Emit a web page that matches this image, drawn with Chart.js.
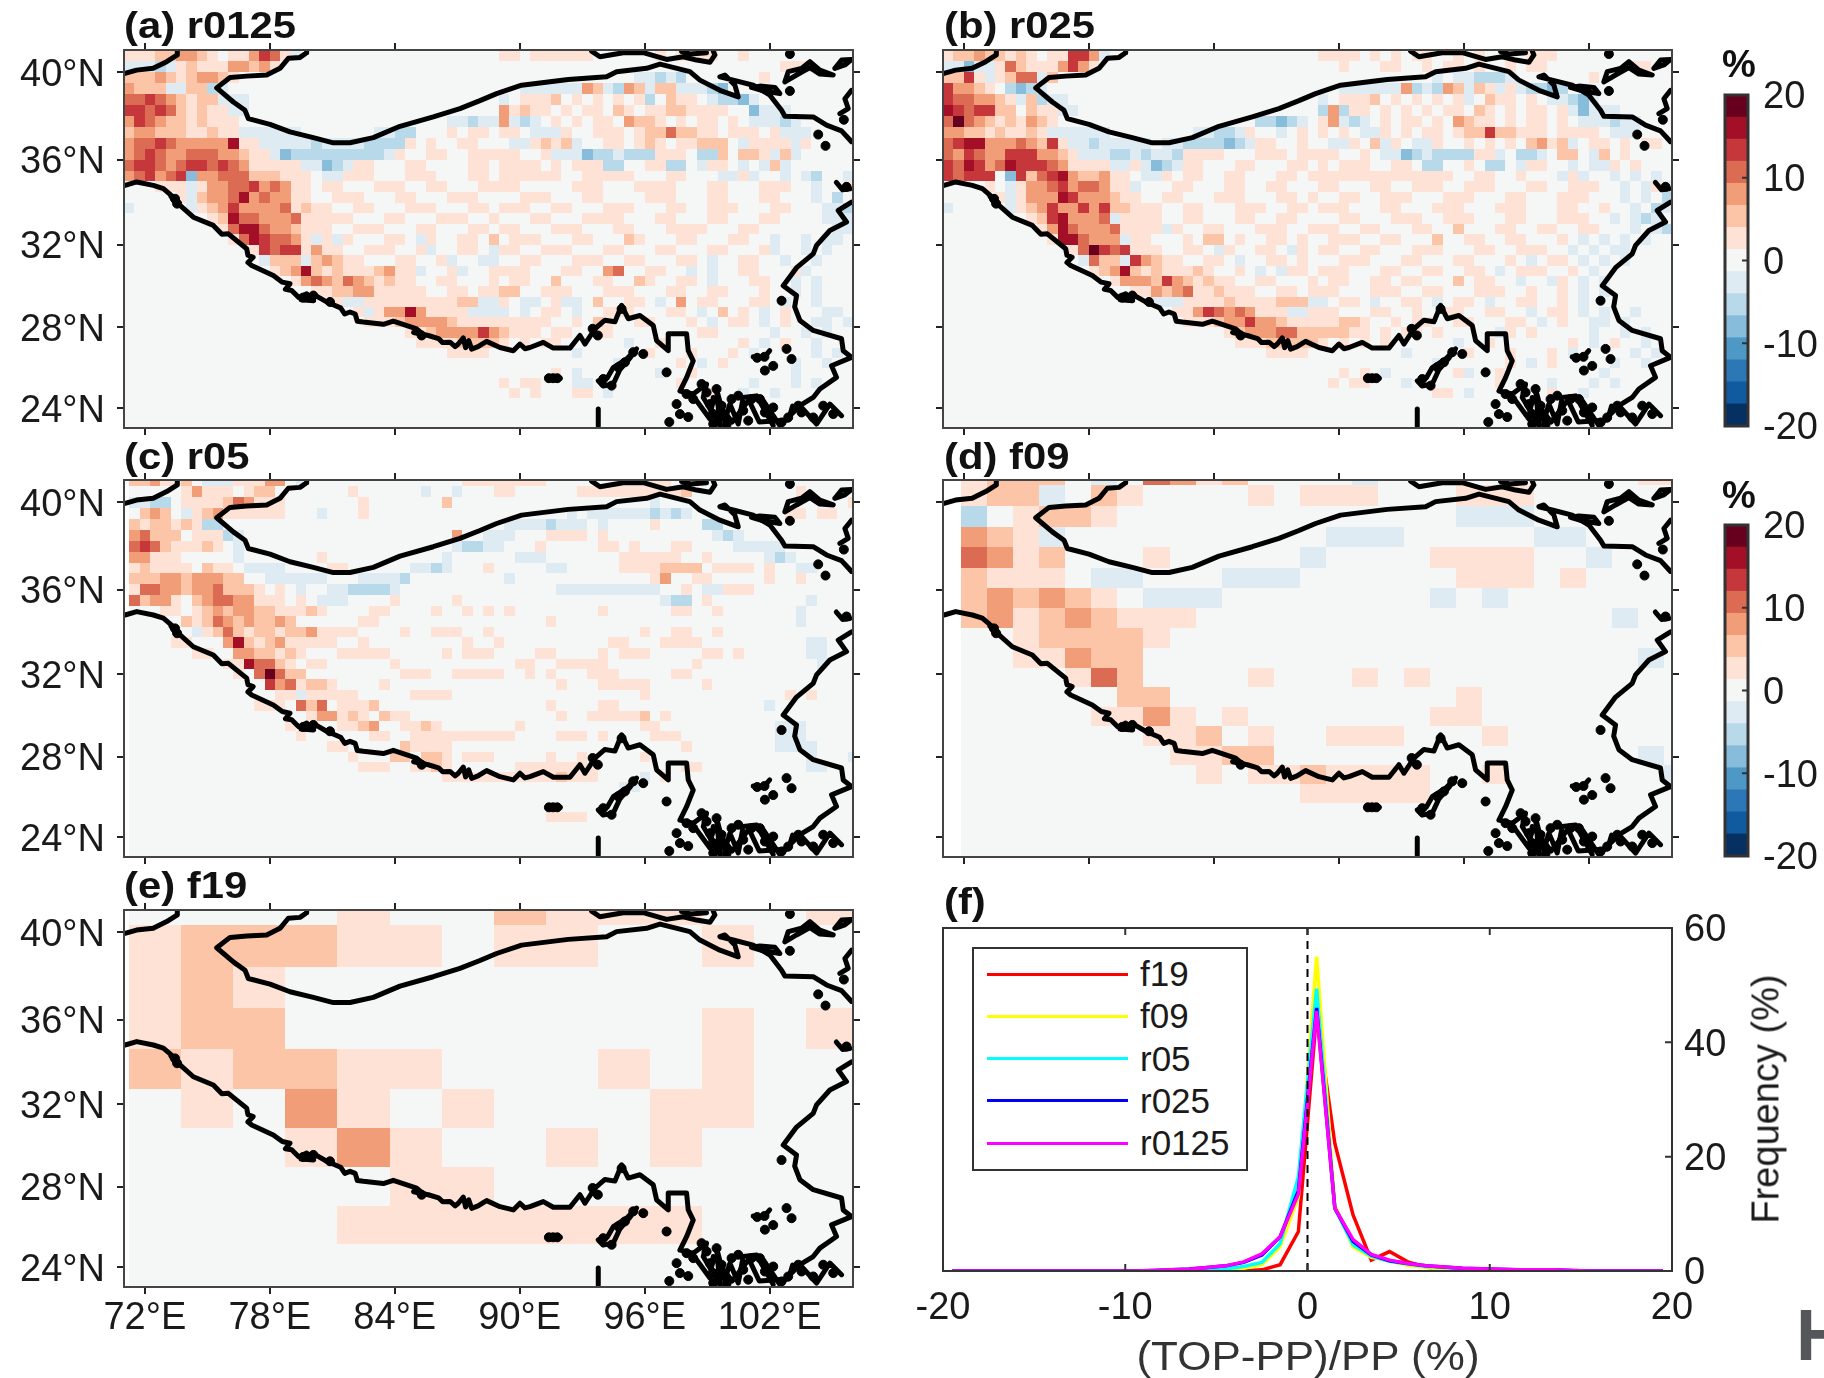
<!DOCTYPE html>
<html>
<head>
<meta charset="utf-8">
<title>TOP-PP maps</title>
<script src="https://cdn.jsdelivr.net/npm/chart.js@4"></script>
<style>
html, body { margin: 0; padding: 0; background: #fff; }
body { position: relative; width: 1824px; height: 1378px; overflow: hidden; font-family: "Liberation Sans", sans-serif; color: #1a1a1a; }
canvas { position: absolute; }
.txt { position: absolute; white-space: nowrap; }
</style>
</head>
<body>
<script>
// axes
const lonTicks = [72, 78, 84, 90, 96, 102];
const lonLabels = ['72°E', '78°E', '84°E', '90°E', '96°E', '102°E'];
const latTicks = [40, 36, 32, 28, 24];
const latLabels = ['40°N', '36°N', '32°N', '28°N', '24°N'];
const levelChars = 'gfedcba.1234567';
const levelColors = ['#053061', '#105ba0', '#2c78b6', '#4e98c6', '#87bcda', '#b8d9ea', '#deebf3', '#f5f7f6',
    '#fde2d5', '#fcc5a8', '#f09d78', '#dc6b54', '#c5373a', '#a20f26', '#67001f'];
const barLimits = [-20, -17.33, -14.67, -12, -9.33, -6.67, -4, -1.33, 1.33, 4, 6.67, 9.33, 12, 14.67, 17.33, 20];

// cell levels, one string per row from the north, '.' is 0, 1-7 positive, a-g negative
const f19Rows = [
    '....1..2111..1', '122211.11..1..', '121...........', '122........1.1', '212211...1.1..',
    '.1.31.1...11..', '...131..1.1...', '.....11.......', '....1111111...'
];
const f09Rows = [
    '1222.a.4312....a..........11', '122a.21....1.111...111......', 'b.1221.............aaa......',
    '321a..........aaa.....aa....', '4312...1.....a....1111..a...', '2111.aa...aaa......111.1....',
    '232321.aaa........a.a.......', '231232111................a..', '..122221....................',
    '..11322...................a.', '....142....1...1.1..........', '......22...........1........',
    '.....1131.1.......11........', '.......112.1..111...1.......', '........1122..............a.',
    '.........1.1121111..1......a', '.............11111..........'
];
const r05West = [
    '223112.aaa11133.a...............1111', '.....13111.122.......1......a..a...1', 'aabb.1111243111.......1.......2.....',
    '.232.a123111111...a...1.............', '2122121bb...........................', '34222.111ba....................3..aa',
    '454211121.a....................abbaa', '33111.....a.......1...........a.....', '121111.211.aaaa....11......aaba...1.',
    '22233233322..aaaaaa...aaaab.........', '1443323342221.1.a..aabbbba..........', '42331.234433111.1.aaa....1.....1....',
    '...11.1232332211121....11....1..1.1.', '.....21243232232......11............', '......a124212212231111....1..111..1.',
    '....11...36212311111..1.........1..1', '......11..3322121...11111.....1.111.', '.........1164421.11......1..........',
    '..........1.47422.........111..11111', '.............5341221....1...........', '..............11a11111.....1111.....',
    '............111.424.1112............', '.................133121.211.........', '...............1....1123..1121......',
    '................1......11..111111111', '...................11.....21111.....', '.....................1...22.221.111.',
    '......................111..1121.....', '..............................111111'
];
const r05East = [
    '1111..........11', '1......11111111112..........1', '..............a..................1',
    '......a.aaaaaababa.........11.11.', 'aaaabaaa.a....1....bb', 'a...1111.1..........aba',
    '...1.....11.1...11....aaaaa', '.aaa.......111111..1.....aba', '....aa.....11112222.1111.1..aa',
    'a.............13..11.....1..1', '.....aaaaaaaaaa..1.aa111', '...............abb.1.........a',
    '1........1......11..1.......a', '....1.......................a', '.............1..11..1', '..........11...1111..........aa',
    '...11....1.111.....11.1......aa', '.11..11111........1...........a', '..1.1...111.....11', '.....1...11111.....1',
    '.............1.............1.1', '....1....11..............a', '.....1..111112.1', '.1...........11...........aaa',
    '1....111.1....111.........aaa', '.................1........aaaa', '....1..1.....1...............a...a',
    '.11111111........11..........aa', '111112111....a.1', '...........aa', '', '', '....1111'
];
const r0125West = [
    '111223321.113541a', 'aaaba1211133231', '22232123321', '3222aa22ba', '445432122aaa', '5545421211aa',
    '35432212111....................aabaa', '23322211211aaaaaa.......aabb...1.11.', '3445433333611aaaaabaaaabbbb1.1..11..',
    '34543344433211acbbbbbbbbba1..11..111', '45543455454311111aacba11...11....11.', '345345c33444222111.aa111...111...11.',
    '...111a13344534311.11...111..11...11', '.....1a23346343311..111...11...111..', 'a.....a1235333341211..11...111...11.',
    '........12644333411111...11...111..1', '.........14664332111..111...11...11.', '..........14654431a1a1...11.a1..11.2',
    '............154551311..111..1a..11.a', '.............a222a23211...11..1a..aa', '..............12362121112311a..1a..1',
    '................134324321211..11...1', '..................11223311111..11.11', '....................1aa11111111122aa',
    '......................1a133631111aaa', '.......................1112333321111', '...........................112333353',
    '............................11112222', '...............................1111'
];
const r0125East = [
    '11.111111......1.1111..1.......', '...........................111', '.............aabab.......1',
    '..aaaaaa32ab32a22aaabc', 'a.1112.1.1.1.1b.211.abbca', '31211.1.11.21.11221111..caaa', '3aba.1.1.11.3221.1.11.1.aaaba',
    '11.aaa1..111.12242211.111.1aaa', '.aa1212a..11.121.11222.a1111a1', '11..1aaacbbabbb111.bb2.221a2a', '1111.1.111bb..11bb.a11.a.a2a',
    '111111..11111...11...aa1a..a.ab..a', '11.....111...1111...11...111..a..1a', '..111...11....111...11...11...a.b.', '111..11...111...11..111...11...aab',
    '...11...1111...11...11...11....aaa', '11...111...11...1111...11.......aa', '.111...11...21...11...11..a..a.aa.', '11..111...11...11...11...1a..a.a',
    '..11...111..11...11.a..11..a..a', '111...11..34..11..a.a..11...1a', '.11..2...11..21..11.a...11..a.a', '22..111...111...11..11...1..a.a',
    '1.aa.1aa.2..11.a.3.11...11.a..a', 'a.a.11.a..111...11.a.2.1.a.1...aa', '11111..1.21..11...1.a.11.a.1..aa.a', '2111.11..11........11.....a..a.a',
    '1.1.11......a..1.......1.a.1..a', '.......a......1...1...1.a.....a.a', '...........a.....1.a.1......a..a', '.....1.a.......a..1.........a',
    '1.11...aa........1......a...a.a', '.1.1...11.a.........1..a..a'
];
const r025West = [
    '122322121.11553a', 'aacaa1421113531', '2251a1244a2', '53321.bcba', '5443321a2baa', '6545522.211aa',
    '47432121321...................bbcba.', '3322121121aaaaaa........aabba1..a.1.', '456633343251aabaaaaa.aabbbbcba11..1.',
    '4354335553321aaabbabaab1111...111.11', '5465346555431111aa1acba11...11...11.', '54555.c52456322311.aa1.11..11...11.1',
    '....1.a13345344311a...11...11..11...', '.....1a133365333211..11...111...11.1', 'a.....a12353353522111..11...111..11.',
    '........12563334a1111..11...11..11.', '.........136433341111a1..11...111..11', '..........1664333a11...1.22.1..11.1.',
    '............147545111..11.a1..11.a1.', '.............a422a53211..11.a..11.1.', '..............123621211121..1.a.a11.',
    '................133325321211..11...1', '..................113234112111..11.1', '....................aaa111121111222a',
    '......................11354343111aa1', '.......................1112335332111', '...........................123334422',
    '............................11122222', '...............................1111'
];
const r025East = [
    '1111.1.1.11..1.1....111..........', '..1...11..1.11.1..1.11........11', '...........a.aabbba.......1',
    '..aaaaaa3bab32a21a1abbcb', 'a.1112.1.1.1.1a.211.1.aabca', 'b3b11.1.1.1.11.21.1.11.1acaaa', '13aba.1.11.1.3211.1.11.1.aaabaa',
    '1.1.aa1.1.11.122522111.1111.aaa.', '.aa1.2a1.aa1..1.1.1.2312a.11.1.11', '11..1.aacbabbbb11a.bba.22.a2.1', '1.111..11.bb..1.bb.a11..a.aa1.1',
    '1111111111111..11..1...a1a..a.a.a', '11...11..111..111...11..111..a.a1a', '..11..111...111...11...111...a.a.b', '111...11...111...111...11..1..a.ba',
    '..11...111..111...11...111..a.aba', '11..11...11..2...11..11..11...a.ab', '.111..11...2..11..11...1.a.a.a.a', '11..11...111...11..111..a.a.aa',
    '..111...11...11...1.a.11.a.a.a', '111...11..11..11.a.111..1.a', '.11..11.11...2.11..a..a1.a.a', '11...111..11...111..1..1.a.a',
    'a.11.a..11.a.11.a..11..1.a', '11...11..1..11..11..a.11.a.a..a', '11221..1.11..11...11.a.1..aa.a', '22211.1.11.1.....a1.1.....a..a.a',
    '1.1.1.1......a..1.......1.a.1..a', '........a.....1...1...1.a.....a.a', '...........a......1.a.1.....a..a', '..1.1.a......1a..1.........a',
    '.1.11...a........1....a...a.a', '...........11.a.......1..a'
];

// terrain contour, [lon, lat]
const coastNorthWest = [[71.05, 39.95], [71.6, 40.1], [72.4, 40.18], [73.05, 40.48], [73.56, 40.78], [73.56, 41]];
const coastNorth = [[79.77, 41], [79.77, 40.88], [79.45, 40.67], [78.89, 40.63], [78.49, 40.18], [77.85, 39.88], [76.89, 39.83], [76.09, 39.77],
    [75.45, 39.3], [76.25, 38.66], [76.81, 38.28], [76.97, 37.9], [78.01, 37.64], [78.97, 37.29], [80.09, 37.03], [81.05, 36.79], [81.85, 36.79],
    [82.97, 37.03], [84.25, 37.55], [85.85, 37.98], [87.13, 38.36], [88.09, 38.72], [88.89, 39.04], [90.09, 39.42], [92.33, 39.68], [94.17, 39.8],
    [94.65, 40.03], [96.09, 40.18], [96.73, 40.37], [98.17, 40.03], [98.65, 39.65], [99.61, 39.19], [100.49, 38.89], [100.33, 39.42], [99.85, 39.88],
    [99.61, 39.8], [100.25, 39.65], [101.21, 39.42], [102.01, 38.97], [102.57, 38.28], [102.73, 38.01], [104.09, 37.98], [104.73, 37.6], [105.45, 37.34], [105.93, 36.84]];
const coastTop = [[93.45, 40.95], [93.85, 40.7], [94.97, 40.88], [95.93, 40.88], [97.05, 40.58], [97.85, 40.7], [98.49, 40.55], [99.13, 40.45], [99.37, 40.78], [99.29, 40.95]];
const coastTop2 = [[97.77, 40.93], [98.2, 40.82], [98.97, 40.88]];
const coastLoop1 = [[102.73, 39.57], [102.89, 40.03], [103.53, 40.18], [103.93, 40.48], [104.41, 40.1], [105.05, 39.88], [104.41, 39.92], [103.93, 40.21], [103.29, 39.88], [102.73, 39.57]];
const coastLoop2 = [[105.13, 40.18], [105.45, 40.55], [105.93, 40.58], [105.61, 40.33], [105.13, 40.18]];
const coastLoop3 = [[101.13, 39.32], [101.69, 39.16], [102.49, 39.04], [102.25, 39.32], [101.53, 39.38], [101.13, 39.32]];
const coastEdge = [[105.93, 39.19], [105.61, 38.81], [105.77, 38.36], [105.37, 38.13]];
const coastEdge2 = [[105.2, 34.95], [105.5, 34.6], [105.85, 34.65]];
const coastSouth = [[71.05, 34.81], [71.61, 34.97], [72.41, 34.81], [72.89, 34.66], [73.2, 34.4], [73.45, 34.18], [73.25, 34.3], [73.45, 34], [73.69, 33.87], [74.33, 33.31], [75.29, 32.92],
    [75.7, 32.5], [76.01, 32.52], [76.89, 31.81], [76.95, 31.5], [77.2, 31.4], [76.95, 31.15], [77.13, 31], [78.17, 30.52], [78.6, 30.2], [78.97, 30.12], [78.75, 29.85], [79.05, 29.8],
    [79.4, 29.45], [79.77, 29.64], [80.1, 29.3], [79.5, 29.35], [80.2, 29.55], [80.73, 29.24], [81.4, 28.95], [81.6, 28.65], [81.85, 28.75], [82.1, 28.65], [82.2, 28.3], [82.49, 28.26],
    [83.45, 28.15], [83.93, 28.31], [85.05, 27.93], [85.3, 27.7], [84.9, 27.75], [85.61, 27.6], [86.1, 27.45], [86.3, 27.25], [86.65, 27.27], [86.9, 27.05], [87.05, 27.18], [87.29, 27.48], [87.4, 27.0], [87.55, 27.35], [87.69, 26.93],
    [88.0, 27.05], [88.25, 27.21], [88.41, 27.31], [89.05, 27.01], [89.69, 26.85], [90.01, 27.18], [90.25, 26.95], [90.49, 27.01], [91.13, 27.26], [91.61, 26.98], [92.41, 26.98], [92.89, 27.6], [93.13, 27.18],
    [93.61, 27.93], [94.09, 28.35], [94.57, 28.27], [94.89, 29.07], [95.21, 28.42], [95.77, 28.58], [96.41, 28.09], [96.57, 27.35], [97.13, 26.85], [97.13, 27.68], [98.01, 27.68],
    [98.09, 26.85], [98.33, 26.35], [98.01, 25.52], [97.69, 24.85], [98.33, 24.7], [98.97, 25.2], [98.81, 24.53], [99.61, 23.12], [99.45, 24.95], [99.85, 23.37], [100.09, 24.2],
    [100.49, 23.2], [100.73, 24.53], [101.37, 24.61], [102.17, 23.12], [101.69, 24.37], [102.49, 23.12], [103.45, 24.12], [104.25, 23.2], [104.89, 24.2], [105.45, 23.62]];
const coastMyanmar = [[98.49, 24.37], [99.13, 23.45], [99.29, 24.53], [100.2, 23.3], [101, 24.4], [101.5, 23.3], [102.9, 23.4], [103.1, 24.1]];
const coastEast = [[105.93, 34.02], [105.29, 33.63], [105.69, 33.08], [104.89, 32.68], [104.25, 31.97], [104.09, 31.56], [103.29, 30.9], [102.65, 30.03], [103.29, 29.55],
    [103.2, 29.0], [103.45, 28.34], [104.09, 27.85], [105.45, 27.44], [105.53, 26.85], [105.93, 26.52], [104.97, 26.11], [105.21, 25.53], [104.41, 24.95], [104.09, 24.53], [103.45, 24.12]];
const coastShillong = [[93.77, 25.36], [94.2, 25.5], [94.49, 26.02], [95.13, 26.44], [95.61, 26.94], [95.3, 26.5], [94.8, 25.9], [94.49, 25.2], [94, 25.1], [93.77, 25.36]];
const coastIsle1 = [[91.35, 25.49], [91.95, 25.49]];
const coastIsle2 = [[93.77, 23.95], [93.77, 23.1]];
const coastIsle3 = [[101.21, 26.55], [101.7, 26.5], [102, 26.85]];
const blobLon = [102.97, 102.97, 104.33, 104.68, 105.56, 105.69, 97.05, 95.93, 101.77, 102.17, 102.81, 103.05, 102.57, 97.53, 97.69, 98.09, 97.18,
    98.01, 98.33, 98.73, 98.97, 99.13, 99.29, 99.45, 99.69, 99.85, 100.17, 100.49, 100.73, 100.97, 101.13, 101.53, 101.77, 102.17, 102.57, 102.89, 103.37, 103.53, 104.09, 104.57, 105.05, 99.29, 99.93,
    94.01, 94.41, 94.73, 95.05, 95.45, 73.45, 73.55, 79.6, 80.09, 80.89, 85.29, 93.5, 93.75, 94.89, 91.4, 91.6, 91.8, 101.4, 101.75];
const blobLat = [40.82, 39.16, 37.17, 36.65, 37.85, 34.74, 25.78, 26.69, 25.87, 26.1, 26.94, 26.44, 29.3, 24.2, 23.7, 23.55, 23.3,
    24.7, 24.45, 25.2, 24.78, 24.2, 23.7, 24.95, 24.12, 23.53, 24.45, 24.62, 23.87, 23.37, 24.45, 24.45, 23.78, 24.03, 23.28, 23.53, 24.12, 23.78, 23.53, 24.12, 23.7, 23.2, 23.17,
    25.45, 25.12, 26.03, 26.28, 26.78, 34.18, 33.95, 29.45, 29.55, 29.24, 27.6, 27.93, 27.6, 28.9, 25.49, 25.49, 25.49, 26.5, 26.55];

// panel (f)
const binCenters = [-19.5, -18.5, -17.5, -16.5, -15.5, -14.5, -13.5, -12.5, -11.5, -10.5, -9.5, -8.5, -7.5, -6.5, -5.5, -4.5, -3.5, -2.5, -1.5, -0.5,
    0.5, 1.5, 2.5, 3.5, 4.5, 5.5, 6.5, 7.5, 8.5, 9.5, 10.5, 11.5, 12.5, 13.5, 14.5, 15.5, 16.5, 17.5, 18.5, 19.5];
const freqF19 = [0, 0, 0, 0, 0, 0, 0, 0, 0, 0, 0, 0, 0, 0, 0, 0, 0, 0.2, 1.1, 6.9, 45, 22.3, 9.8, 1.9, 3.4, 1.6, 0.7, 0.2, 0, 0, 0, 0, 0, 0, 0, 0, 0, 0, 0, 0];
const freqF09 = [0, 0, 0, 0, 0, 0, 0, 0, 0, 0, 0, 0, 0, 0, 0.05, 0.2, 0.5, 1.1, 4.3, 13, 55, 11.5, 4.2, 2.4, 1.8, 1, 0.6, 0.3, 0.1, 0, 0, 0, 0, 0, 0, 0, 0, 0, 0, 0];
const freqR05 = [0, 0, 0, 0, 0, 0, 0, 0, 0, 0, 0, 0, 0, 0.1, 0.2, 0.4, 0.8, 1.5, 4.8, 16.5, 49.4, 11, 4.6, 2.6, 1.7, 1.2, 0.8, 0.6, 0.4, 0.3, 0.2, 0.1, 0, 0, 0, 0, 0, 0, 0, 0];
const freqR025 = [0, 0, 0, 0, 0, 0, 0, 0, 0, 0, 0, 0.1, 0.2, 0.35, 0.6, 0.9, 1.5, 2.8, 6, 14, 46, 11, 5.2, 2.8, 1.8, 1.3, 0.9, 0.7, 0.5, 0.4, 0.3, 0.2, 0.2, 0.2, 0.1, 0, 0, 0, 0, 0];
const freqR0125 = [0, 0, 0, 0, 0, 0, 0, 0, 0, 0, 0, 0.1, 0.2, 0.3, 0.6, 0.9, 1.6, 3, 6, 13.5, 45.5, 11, 5.5, 2.9, 1.9, 1.3, 0.9, 0.7, 0.5, 0.4, 0.3, 0.2, 0.2, 0.2, 0.1, 0, 0, 0, 0, 0];
const seriesNames = ['f19', 'f09', 'r05', 'r025', 'r0125'];
const seriesColors = ['#ff0000', '#ffff00', '#00ffff', '#0000ff', '#ff00ff'];
const seriesValues = [freqF19, freqF09, freqR05, freqR025, freqR0125];

const tickFont = { family: 'Liberation Sans', size: 38 };
const inkColor = '#1a1a1a';

// Miller projection, it fits the tick spacing of the maps
function miller(lat) {
    return 1.25 * Math.log(Math.tan(Math.PI / 4 + 0.4 * lat * Math.PI / 180));
}

function addCanvas(left, top, width, height) {
    const c = document.createElement('canvas');
    c.width = width;
    c.height = height;
    c.style.left = left + 'px';
    c.style.top = top + 'px';
    document.body.appendChild(c);
    return c;
}

function addText(text, x, y, css, anchor) {
    const d = document.createElement('div');
    d.className = 'txt';
    d.textContent = text;
    d.style.cssText = 'left:' + x + 'px;top:' + y + 'px;' + css;
    d.style.transform = anchor;
    document.body.appendChild(d);
    return d;
}

// labels may hang over the plot corners, the layout must not shrink for them
function fixSize(axis, size) {
    if (axis.isHorizontal()) { axis.height = size; } else { axis.width = size; }
    axis.paddingLeft = axis.paddingRight = axis.paddingTop = axis.paddingBottom = 0;
}

// digits sit a little high on the tick, push the vertical axis labels down
const labelShiftPlugin = {
    id: 'labelShift',
    beforeDraw(chart) {
        Object.values(chart.scales).forEach(function(scale) {
            if (scale.isHorizontal() || scale.labelShifted || !scale.options.ticks.display || !scale.options.display) { return; }
            scale.getLabelItems().forEach(function(item) { item.options.translation[1] += 3; });
            scale.labelShifted = true;
        });
    }
};

const framePlugin = {
    id: 'frame',
    afterDraw(chart, args, opts) {
        const a = chart.chartArea, ctx = chart.ctx;
        ctx.save();
        ctx.strokeStyle = opts.color || '#444';
        ctx.lineWidth = opts.width || 2;
        ctx.strokeRect(a.left, a.top, a.right - a.left, a.bottom - a.top);
        ctx.restore();
    }
};

const cellsPlugin = {
    id: 'cells',
    beforeDatasetsDraw(chart, args, opts) {
        const a = chart.chartArea, ctx = chart.ctx, xs = chart.scales.x, ys = chart.scales.y;
        ctx.save();
        ctx.beginPath();
        ctx.rect(a.left, a.top, a.right - a.left, a.bottom - a.top);
        ctx.clip();
        opts.grids.forEach(function(g) {
            for (let r = 0; r < g.nRows; r++) {
                const row = g.rows[r] || '';
                const y0 = Math.round(ys.getPixelForValue(miller(g.top - r * g.dLat)));
                const y1 = Math.round(ys.getPixelForValue(miller(g.top - (r + 1) * g.dLat)));
                for (let c = 0; c < g.nCols; c++) {
                    const x0 = Math.round(xs.getPixelForValue(g.lon0 + c * g.dLon));
                    const x1 = Math.round(xs.getPixelForValue(g.lon0 + (c + 1) * g.dLon));
                    ctx.fillStyle = levelColors[levelChars.indexOf(row[c] || '.')];
                    ctx.fillRect(x0, y0, x1 - x0, y1 - y0);
                }
            }
        });
        ctx.restore();
    }
};

// small ticks pointing into the plot
const innerTicksPlugin = {
    id: 'innerTicks',
    afterDraw(chart, args, opts) {
        const a = chart.chartArea, ctx = chart.ctx;
        ctx.save();
        ctx.strokeStyle = opts.color || '#333';
        ctx.lineWidth = 2;
        ctx.beginPath();
        if (chart.scales.x && opts.x) {
            chart.scales.x.ticks.forEach(function(t) {
                const p = chart.scales.x.getPixelForValue(t.value);
                ctx.moveTo(p, a.bottom); ctx.lineTo(p, a.bottom - opts.len);
                ctx.moveTo(p, a.top); ctx.lineTo(p, a.top + opts.len);
            });
        }
        chart.scales.y.ticks.forEach(function(t) {
            const p = chart.scales.y.getPixelForValue(t.value);
            ctx.moveTo(a.right, p); ctx.lineTo(a.right - opts.len, p);
        });
        ctx.stroke();
        ctx.restore();
    }
};

function coastDatasets() {
    const lines = [coastNorthWest, coastNorth, coastTop, coastTop2, coastLoop1, coastLoop2, coastLoop3, coastEdge, coastEdge2, coastSouth, coastMyanmar, coastEast, coastShillong, coastIsle1, coastIsle2, coastIsle3];
    const sets = lines.map(function(line) {
        return {
            data: line.map(p => ({ x: p[0], y: miller(p[1]) })),
            showLine: true, pointRadius: 0, borderColor: '#000', borderWidth: 5,
            borderJoinStyle: 'round', borderCapStyle: 'round'
        };
    });
    sets.push({
        data: blobLon.map((lon, i) => ({ x: lon, y: miller(blobLat[i]) })),
        showLine: false, pointRadius: 4.5, backgroundColor: '#000', borderColor: '#000'
    });
    return sets;
}

function mapAxis(position, ticksDisplay, size, values, labels, transform) {
    return {
        type: 'linear',
        position: position,
        min: transform(position === 'top' || position === 'bottom' ? 71 : 23),
        max: transform(position === 'top' || position === 'bottom' ? 106 : 41),
        afterBuildTicks: function(axis) { axis.ticks = values.map(v => ({ value: transform(v) })); },
        afterFit: function(axis) { fixSize(axis, size); },
        grid: { drawOnChartArea: false, drawTicks: true, tickLength: 7, color: '#222', lineWidth: 2 },
        border: { display: false },
        ticks: {
            display: ticksDisplay, autoSkip: false, maxRotation: 0, font: tickFont, color: inkColor, padding: position === 'bottom' ? 2 : 12,
            callback: function(v, i) { return labels[i]; }
        }
    };
}

function drawMap(rect, grids, showLat, showLon) {
    const ml = showLat ? 120 : 20, mt = 20, mr = 20, mb = showLon ? 80 : 20;
    const c = addCanvas(rect.l - ml, rect.t - mt, rect.r - rect.l + ml + mr, rect.b - rect.t + mt + mb);
    const same = v => v;
    new Chart(c.getContext('2d'), {
        type: 'scatter',
        data: { datasets: coastDatasets() },
        plugins: [cellsPlugin, framePlugin, labelShiftPlugin],
        options: {
            responsive: false, animation: false, events: [],
            layout: { padding: 0 },
            plugins: { legend: { display: false }, tooltip: { enabled: false }, cells: { grids: grids }, frame: { color: '#444', width: 2 } },
            scales: {
                x: mapAxis('bottom', showLon, mb, lonTicks, lonLabels, same),
                xTop: mapAxis('top', false, mt, lonTicks, lonLabels, same),
                y: mapAxis('left', showLat, ml, latTicks, latLabels, miller),
                yRight: mapAxis('right', false, mr, latTicks, latLabels, miller)
            }
        }
    });
}

function drawColorbar(top, bottom) {
    const c = addCanvas(1715, top - 30, 109, bottom - top + 60);
    const sets = levelColors.map(function(color, i) {
        return { data: [[barLimits[i], barLimits[i + 1]]], backgroundColor: color, grouped: false, barPercentage: 1, categoryPercentage: 1 };
    });
    new Chart(c.getContext('2d'), {
        type: 'bar',
        data: { labels: ['%'], datasets: sets },
        plugins: [framePlugin, innerTicksPlugin, labelShiftPlugin],
        options: {
            responsive: false, animation: false, events: [],
            layout: { padding: { left: 10, top: 30, bottom: 30 } },
            plugins: { legend: { display: false }, tooltip: { enabled: false }, frame: { color: '#333', width: 3 }, innerTicks: { len: 6, x: false } },
            scales: {
                x: { display: false },
                y: {
                    position: 'right', min: -20, max: 20,
                    afterFit: function(axis) { fixSize(axis, 76); },
                    grid: { display: false, drawTicks: false }, border: { display: false },
                    ticks: { stepSize: 10, font: tickFont, color: inkColor, padding: 15 }
                }
            }
        }
    });
}

function drawFrequency() {
    const c = addCanvas(880, 888, 944, 490);
    const sets = seriesValues.map(function(vals, i) {
        return {
            label: seriesNames[i],
            data: vals.map((v, k) => ({ x: binCenters[k], y: v })),
            showLine: true, pointRadius: 0, borderColor: seriesColors[i], borderWidth: 3.5, order: 5 - i
        };
    });
    sets.push({ data: [{ x: 0, y: 0 }, { x: 0, y: 60 }], showLine: true, pointRadius: 0, borderColor: '#000', borderWidth: 2, borderDash: [8, 6], order: 0 });
    new Chart(c.getContext('2d'), {
        type: 'scatter',
        data: { datasets: sets },
        plugins: [framePlugin, innerTicksPlugin, labelShiftPlugin],
        options: {
            responsive: false, animation: false, events: [],
            layout: { padding: { left: 63, top: 40 } },
            plugins: { legend: { display: false }, tooltip: { enabled: false }, frame: { color: '#333', width: 2 }, innerTicks: { len: 7, x: true } },
            scales: {
                x: {
                    type: 'linear', min: -20, max: 20,
                    afterFit: function(axis) { fixSize(axis, 107); },
                    grid: { display: false, drawTicks: false }, border: { display: false },
                    ticks: { stepSize: 10, font: tickFont, color: inkColor, padding: 15, maxRotation: 0 }
                },
                y: {
                    position: 'right', min: 0, max: 60,
                    afterFit: function(axis) { fixSize(axis, 152); },
                    grid: { display: false, drawTicks: false }, border: { display: false },
                    ticks: { stepSize: 20, font: tickFont, color: inkColor, padding: 12 }
                }
            }
        }
    });
}

function drawLegend() {
    const box = document.createElement('div');
    box.style.cssText = 'position:absolute;left:972px;top:947px;width:272px;height:220px;border:2.5px solid #333;background:#fff;';
    document.body.appendChild(box);
    seriesNames.forEach(function(name, i) {
        const y = 974 + i * 42.3;
        const line = document.createElement('div');
        line.style.cssText = 'position:absolute;left:987px;width:141px;height:3px;top:' + (y - 1.5) + 'px;background:' + seriesColors[i] + ';';
        document.body.appendChild(line);
        addText(name, 1140, y, 'font-size:35px;', 'translateY(-50%)');
    });
}

function grid(rows, lon0, top, dLon, dLat, nCols, nRows) {
    return { rows: rows, lon0: lon0, top: top, dLon: dLon, dLat: dLat, nCols: nCols, nRows: nRows };
}

drawMap({ l: 124, t: 50, r: 853, b: 428 }, [grid(r0125West, 71, 41, 0.5, 0.5, 36, 36), grid(r0125East, 89, 41, 0.5, 0.5, 34, 36)], true, false);
drawMap({ l: 943, t: 50, r: 1672, b: 428 }, [grid(r025West, 71, 41, 0.5, 0.5, 36, 36), grid(r025East, 89, 41, 0.5, 0.5, 34, 36)], false, false);
drawMap({ l: 124, t: 480, r: 853, b: 857 }, [grid(r05West, 71.25, 41.25, 0.5, 0.5, 36, 37), grid(r05East, 89.25, 41.25, 0.5, 0.5, 34, 37)], true, false);
drawMap({ l: 943, t: 480, r: 1672, b: 857 }, [grid(f09Rows, 71.875, 41.73, 1.25, 0.9424, 28, 20)], false, false);
drawMap({ l: 124, t: 910, r: 853, b: 1287 }, [grid(f19Rows, 71.25, 42.2, 2.5, 1.893, 14, 11)], true, true);
drawColorbar(95, 426);
drawColorbar(525, 856);
drawFrequency();
drawLegend();

const titleCss = 'font-weight:bold;font-size:37px;color:#111;';
const titleAnchor = 'translateY(-50%) scaleX(1.13)';
[['(a) r0125', 124, 26], ['(b) r025', 944, 26], ['(c) r05', 124, 457], ['(d) f09', 944, 457], ['(e) f19', 124, 886], ['(f)', 944, 902]].forEach(function(t) {
    const d = addText(t[0], t[1], t[2], titleCss, titleAnchor);
    d.style.transformOrigin = 'left center';
});
addText('%', 1722, 64, 'font-weight:bold;font-size:38px;color:#111;', 'translateY(-50%)');
addText('%', 1722, 495, 'font-weight:bold;font-size:38px;color:#111;', 'translateY(-50%)');
addText('(TOP-PP)/PP (%)', 1308, 1356, 'font-size:40px;color:#333;', 'translate(-50%,-50%) scaleX(1.1)');
addText('Frequency (%)', 1766, 1099, 'font-size:38px;color:#1a1a1a;', 'translate(-50%,-50%) rotate(-90deg)');
addText('H', 1796, 1335, 'font-weight:bold;font-size:72px;color:#55565a;', 'translateY(-50%)');
</script>
</body>
</html>
